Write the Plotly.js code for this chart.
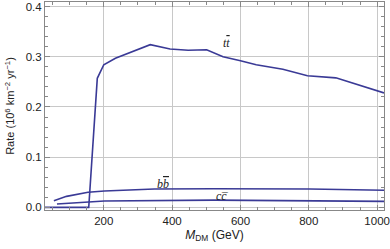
<!DOCTYPE html>
<html>
<head>
<meta charset="utf-8">
<script src="https://cdn.plot.ly/plotly-3.0.1.min.js"></script>
<style>html,body{margin:0;padding:0;background:#fff;}#chart{width:390px;height:249px;}</style>
</head>
<body>
<div id="chart"></div>
<script>
// t tbar channel
var ttMass = [28, 156, 181, 200, 234, 336, 394, 447, 501, 549, 600, 646, 724, 796, 879, 1020];
var ttRate = [0, 0, 0.257, 0.284, 0.297, 0.324, 0.3155, 0.313, 0.314, 0.300, 0.292, 0.284, 0.275, 0.262, 0.258, 0.228];
// b bbar channel
var bbMass = [54, 91, 154, 202, 348, 522, 803, 1020];
var bbRate = [0.0133, 0.022, 0.030, 0.0326, 0.0366, 0.0372, 0.0366, 0.034];
// c cbar channel
var ccMass = [63, 154, 202, 522, 1020];
var ccRate = [0.0068, 0.0113, 0.0127, 0.0145, 0.012];

var labelTexts = [
  "<i>t<span style='text-decoration:overline'>t</span></i>",
  "<i>b<span style='text-decoration:overline'>b</span></i>",
  "<i>cc\u0305</i>"
];
var labelX = [559, 372, 546];
var labelY = [0.328, 0.047, 0.022];

var lineColor = "rgb(58,58,150)";
function tr(x, y) {
  return {x: x, y: y, type: "scatter", mode: "lines", line: {color: lineColor, width: 1.6}, hoverinfo: "none", cliponaxis: true};
}
var data = [tr(ttMass, ttRate), tr(bbMass, bbRate), tr(ccMass, ccRate)];

var annotations = labelTexts.map(function (t, i) {
  return {x: labelX[i], y: labelY[i], xref: "x", yref: "y", text: t, showarrow: false,
    font: {family: "Liberation Serif, DejaVu Serif, serif", size: 12, color: "#222"}};
});

var axisCommon = {
  showline: true, linecolor: "#888", linewidth: 1, mirror: "allticks",
  ticks: "inside", ticklen: 5, tickcolor: "#888", tickwidth: 1,
  showgrid: true, gridcolor: "#c8c8c8", gridwidth: 1, zeroline: false,
  ticklabeloverflow: "allow",
  tickfont: {family: "Liberation Sans, Arial, sans-serif", size: 11.5, color: "#222"}
};

var layout = {
  width: 390, height: 249,
  margin: {l: 45, r: 6, t: 2, b: 39},
  paper_bgcolor: "#fff", plot_bgcolor: "#fff",
  showlegend: false,
  xaxis: Object.assign({}, axisCommon, {
    range: [28, 1020], tickvals: [200, 400, 600, 800, 1000],
    minor: {dtick: 50, tick0: 0, ticks: "inside", ticklen: 3, tickcolor: "#888", showgrid: false},
    title: {text: "<i>M</i><sub>DM</sub> (GeV)", standoff: 4, font: {family: "Liberation Sans, Arial, sans-serif", size: 12, color: "#222"}}
  }),
  yaxis: Object.assign({}, axisCommon, {
    range: [-0.0052, 0.409], tickvals: [0, 0.1, 0.2, 0.3, 0.4], ticktext: ["0.0", "0.1", "0.2", "0.3", "0.4"],
    minor: {dtick: 0.02, tick0: 0, ticks: "inside", ticklen: 3, tickcolor: "#888", showgrid: false},
    title: {text: "Rate (10<sup>6</sup> km<sup>\u22122</sup> yr<sup>\u22121</sup>)", standoff: 8, font: {family: "Liberation Sans, Arial, sans-serif", size: 11, color: "#222"}}
  }),
  annotations: annotations
};

Plotly.newPlot("chart", data, layout, {staticPlot: true, displayModeBar: false});
</script>
</body>
</html>
